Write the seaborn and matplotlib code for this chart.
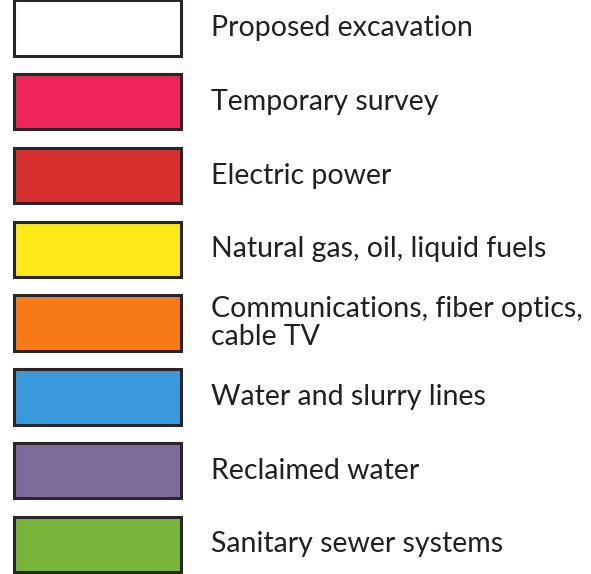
import numpy as np
import pandas as pd
import matplotlib
matplotlib.use("Agg")
import matplotlib.pyplot as plt
import seaborn as sns

# legend entries, top to bottom
labels = ['Proposed excavation', 'Temporary survey', 'Electric power',
          'Natural gas, oil, liquid fuels',
          'Communications, fiber optics,\ncable TV',
          'Water and slurry lines', 'Reclaimed water', 'Sanitary sewer systems']
colors = ['#ffffff', '#f0255a', '#d8302e', '#fde81a', '#f77a17',
          '#3a98dc', '#7e6c9c', '#78b53a']
swatch = [1, 1, 1, 1, 1, 1, 1, 1]

df = pd.DataFrame({'label': labels, 'w': swatch})

sns.set_style('white')
plt.rcParams['font.family'] = ['Lato', 'DejaVu Sans']

fig = plt.figure(figsize=(5.91, 5.74), dpi=100)
ax = fig.add_axes([0, 0, 1, 1])
sns.barplot(data=df, x='w', y='label', hue='label', palette=colors,
            saturation=1, legend=False, orient='h', width=0.75,
            edgecolor='#2a2628', linewidth=2.2, ax=ax)

ax.set_xlim(-14 / 167, 577 / 167)
ax.set_ylim(7.40, -0.38)
for i, lab in enumerate(labels):
    ax.text(1.18, i, lab, fontsize=20.5, color='#231f20', va='center',
            ha='left', linespacing=1.08)
ax.axis('off')

fig.savefig('out.png', dpi=100)
